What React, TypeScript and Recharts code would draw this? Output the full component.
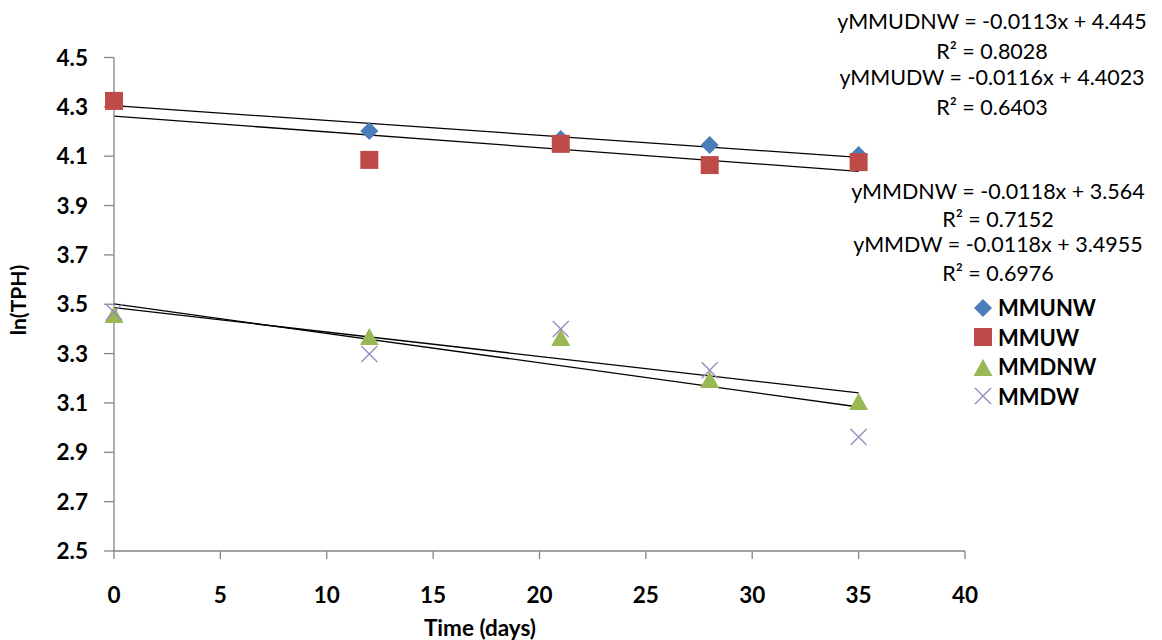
import React from 'react';
import { ScatterChart, Scatter, XAxis, YAxis, ReferenceLine } from 'recharts';

const xDays = [0, 12, 21, 28, 35];
const mmunwValues = [4.327, 4.202, 4.17, 4.145, 4.105];
const mmuwValues = [4.324, 4.085, 4.15, 4.064, 4.076];
const mmdnwValues = [3.456, 3.367, 3.363, 3.193, 3.104];
const mmdwValues = [3.468, 3.298, 3.4, 3.233, 2.962];

const seriesNames = ['MMUNW', 'MMUW', 'MMDNW', 'MMDW'];
const xTicks = [0, 5, 10, 15, 20, 25, 30, 35, 40];
const yTicks = [2.5, 2.7, 2.9, 3.1, 3.3, 3.5, 3.7, 3.9, 4.1, 4.3, 4.5];
const equationLabels = [
  'yMMUDNW = -0.0113x + 4.445',
  'yMMUDW = -0.0116x + 4.4023',
  'yMMDNW = -0.0118x + 3.564',
  'yMMDW = -0.0118x + 3.4955',
];
const r2Labels = ['R² = 0.8028', 'R² = 0.6403', 'R² = 0.7152', 'R² = 0.6976'];

const COLORS = ['#4A7EBB', '#BE4B48', '#98B954', '#9D8BC4'];
const FONT = 'Lato, "Open Sans", sans-serif';

const toPoints = (ys: number[]) => xDays.map((x, i) => ({ x, y: ys[i] }));

function fitSegment(xs: number[], ys: number[]) {
  const n = xs.length;
  const mx = xs.reduce((a, b) => a + b, 0) / n;
  const my = ys.reduce((a, b) => a + b, 0) / n;
  let sxy = 0;
  let sxx = 0;
  for (let i = 0; i < n; i++) {
    sxy += (xs[i] - mx) * (ys[i] - my);
    sxx += (xs[i] - mx) * (xs[i] - mx);
  }
  const b = sxy / sxx;
  const a = my - b * mx;
  const x0 = Math.min(...xs);
  const x1 = Math.max(...xs);
  return [
    { x: x0, y: a + b * x0 },
    { x: x1, y: a + b * x1 },
  ];
}

const Diamond = (p: any) => (
  <polygon
    points={`${p.cx},${p.cy - 9} ${p.cx + 9},${p.cy} ${p.cx},${p.cy + 9} ${p.cx - 9},${p.cy}`}
    fill={COLORS[0]}
  />
);
const Square = (p: any) => <rect x={p.cx - 9} y={p.cy - 9} width={18} height={18} fill={COLORS[1]} />;
const Triangle = (p: any) => (
  <polygon
    points={`${p.cx},${p.cy - 9} ${p.cx + 9.5},${p.cy + 8} ${p.cx - 9.5},${p.cy + 8}`}
    fill={COLORS[2]}
  />
);
const Cross = (p: any) => (
  <g stroke={COLORS[3]} strokeWidth={1.4}>
    <line x1={p.cx - 8} y1={p.cy - 8} x2={p.cx + 8} y2={p.cy + 8} />
    <line x1={p.cx - 8} y1={p.cy + 8} x2={p.cx + 8} y2={p.cy - 8} />
  </g>
);

const XTick = (props: any) => {
  const { x, y, payload } = props;
  return (
    <text x={x} y={y} dy={44} textAnchor="middle" fontFamily={FONT} fontWeight={700} fontSize={22.5} fill="#000">
      {payload.value}
    </text>
  );
};
const YTick = (props: any) => {
  const { x, y, payload } = props;
  return (
    <text x={x - 16} y={y} dy={8} textAnchor="end" fontFamily={FONT} fontWeight={700} fontSize={22.5} fill="#000">
      {Number(payload.value).toFixed(1)}
    </text>
  );
};

const LegendIcon = ({ i }: { i: number }) => (
  <svg width={20} height={20} style={{ display: 'block' }}>
    {i === 0 && <Diamond cx={10} cy={10} />}
    {i === 1 && <Square cx={10} cy={10} />}
    {i === 2 && <Triangle cx={10} cy={11} />}
    {i === 3 && <Cross cx={10} cy={10} />}
  </svg>
);

const eqPositions = [
  [992, 21, 51],
  [992, 77, 107],
  [998, 191, 219],
  [998, 244, 273],
];

const textBox = (cx: number, cy: number): React.CSSProperties => ({
  position: 'absolute',
  left: cx - 8 - 200,
  top: cy - 8 - 8,
  width: 400,
  textAlign: 'center',
  fontFamily: FONT,
  fontSize: 21.5,
  lineHeight: '16px',
  color: '#000',
  whiteSpace: 'nowrap',
});

export default function App() {
  const series = [mmunwValues, mmuwValues, mmdnwValues, mmdwValues];
  const shapes = [Diamond, Square, Triangle, Cross];
  const trends = series.map((ys) => fitSegment(xDays, ys));
  return (
    <div style={{ position: 'relative', width: 1154, height: 632 }}>
      <ScatterChart width={1154} height={632} margin={{ top: 49.5, right: 197, left: 46, bottom: 29 }}>
        <XAxis
          type="number"
          dataKey="x"
          domain={[0, 40]}
          ticks={xTicks}
          height={60}
          tickSize={8}
          tickMargin={0}
          stroke="#868686"
          strokeWidth={1.3}
          tick={<XTick />}
        />
        <YAxis
          type="number"
          dataKey="y"
          domain={[2.5, 4.5]}
          ticks={yTicks}
          width={60}
          tickSize={10}
          tickMargin={0}
          stroke="#868686"
          strokeWidth={1.3}
          tick={<YTick />}
        />
        {series.map((ys, i) => (
          <Scatter
            key={seriesNames[i]}
            name={seriesNames[i]}
            data={toPoints(ys)}
            fill={COLORS[i]}
            shape={shapes[i]}
            isAnimationActive={false}
          />
        ))}
        {trends.map((seg, i) => (
          <ReferenceLine key={'t' + i} segment={seg} stroke="#000" strokeWidth={1.3} ifOverflow="visible" />
        ))}
      </ScatterChart>
      <div style={{ position: 'absolute', left: 973 - 8, top: 293 - 8, fontFamily: FONT }}>
        {seriesNames.map((name, i) => (
          <div key={name} style={{ display: 'flex', alignItems: 'center', height: 29.5 }}>
            <LegendIcon i={i} />
            <span style={{ marginLeft: 5, fontSize: 22, fontWeight: 700, color: '#000' }}>{name}</span>
          </div>
        ))}
      </div>
      {equationLabels.map((eq, i) => (
        <React.Fragment key={eq}>
          <div style={textBox(eqPositions[i][0], eqPositions[i][1])}>{eq}</div>
          <div style={textBox(eqPositions[i][0], eqPositions[i][2])}>{r2Labels[i]}</div>
        </React.Fragment>
      ))}
      <div
        style={{
          position: 'absolute',
          left: 18 - 8 - 60,
          top: 300 - 8 - 13,
          width: 120,
          textAlign: 'center',
          transform: 'rotate(-90deg)',
          fontFamily: FONT,
          fontWeight: 700,
          fontSize: 21,
          lineHeight: '26px',
          color: '#000',
        }}
      >
        ln(TPH)
      </div>
      <div
        style={{
          position: 'absolute',
          left: 480 - 8 - 100,
          top: 628 - 8 - 13,
          width: 200,
          textAlign: 'center',
          fontFamily: FONT,
          fontWeight: 700,
          fontSize: 22.5,
          lineHeight: '26px',
          color: '#000',
        }}
      >
        Time (days)
      </div>
    </div>
  );
}
